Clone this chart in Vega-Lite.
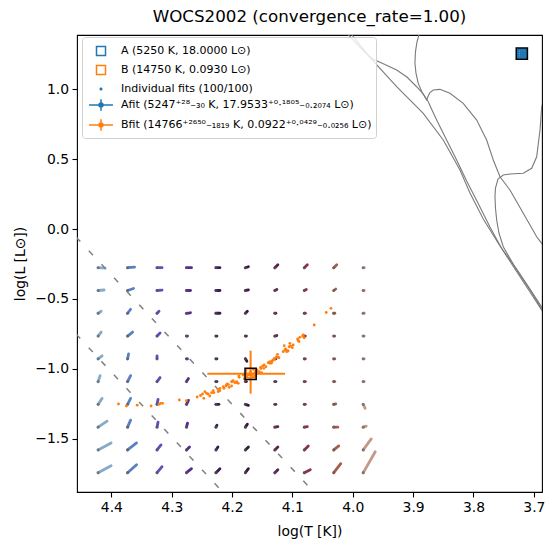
{
"$schema":"https://vega.github.io/schema/vega-lite/v6.json",
"width":465,"height":457,
"autosize":{"type":"none"},
"padding":{"left":77,"top":35,"right":11,"bottom":55},
"title":{"text":"WOCS2002 (convergence_rate=1.00)","fontSize":16.7,"fontWeight":"normal","font":"DejaVu Sans","color":"black","offset":9,"anchor":"middle"},
"config":{
 "font":"DejaVu Sans",
 "view":{"stroke":"black","strokeWidth":1.1},
 "axis":{"grid":false,"domain":false,"tickColor":"black","tickWidth":1.1,"tickSize":5,"labelFontSize":13.9,"labelColor":"black","labelPadding":3.5,"titleFontSize":13.9,"titleFontWeight":"normal","titleColor":"black","labelFont":"DejaVu Sans","titleFont":"DejaVu Sans"},
 "legend":{"strokeColor":"#d0d0d0","fillColor":"rgba(255,255,255,0.8)","cornerRadius":3,"padding":4,"labelFontSize":11,"labelFont":"DejaVu Sans","labelColor":"black","symbolSize":324,"symbolStrokeWidth":1.5,"symbolOpacity":1,"rowPadding":1,"labelOffset":10,"symbolOffset":5,"labelLimit":500}
},
"datasets":{
 "grid":[
{"c":0,"t":4.4219,"l":-0.2767,"t2":4.4103,"l2":-0.2803},{"c":1,"t":4.3731,"l":-0.2767,"t2":4.3615,"l2":-0.2731},{"c":2,"t":4.3243,"l":-0.2767,"t2":4.3160,"l2":-0.2767},{"c":3,"t":4.2755,"l":-0.2767,"t2":4.2672,"l2":-0.2767},{"c":4,"t":4.2267,"l":-0.2767,"t2":4.2201,"l2":-0.2767},{"c":5,"t":4.1779,"l":-0.2767,"t2":4.1729,"l2":-0.2696},{"c":6,"t":4.1291,"l":-0.2767,"t2":4.1241,"l2":-0.2553},{"c":7,"t":4.0803,"l":-0.2767,"t2":4.0753,"l2":-0.2553},{"c":8,"t":4.0315,"l":-0.2767,"t2":4.0265,"l2":-0.2553},{"c":9,"t":3.9827,"l":-0.2767,"t2":3.9810,"l2":-0.2767},
{"c":0,"t":4.4219,"l":-0.4395,"t2":4.4120,"l2":-0.4359},{"c":1,"t":4.3731,"l":-0.4395,"t2":4.3632,"l2":-0.4252},{"c":2,"t":4.3243,"l":-0.4395,"t2":4.3160,"l2":-0.4374},{"c":3,"t":4.2755,"l":-0.4395,"t2":4.2689,"l2":-0.4395},{"c":4,"t":4.2267,"l":-0.4395,"t2":4.2201,"l2":-0.4395},{"c":5,"t":4.1779,"l":-0.4395,"t2":4.1729,"l2":-0.4359},{"c":6,"t":4.1291,"l":-0.4395,"t2":4.1258,"l2":-0.4324},{"c":7,"t":4.0803,"l":-0.4395,"t2":4.0770,"l2":-0.4324},{"c":8,"t":4.0315,"l":-0.4395,"t2":4.0282,"l2":-0.4288},{"c":9,"t":3.9827,"l":-0.4395,"t2":3.9810,"l2":-0.4395},
{"c":0,"t":4.4219,"l":-0.6023,"t2":4.4169,"l2":-0.5880},{"c":1,"t":4.3731,"l":-0.6023,"t2":4.3681,"l2":-0.5737},{"c":2,"t":4.3243,"l":-0.6023,"t2":4.3210,"l2":-0.5880},{"c":3,"t":4.2755,"l":-0.6023,"t2":4.2689,"l2":-0.5987},{"c":4,"t":4.2267,"l":-0.6023,"t2":4.2201,"l2":-0.6023},{"c":5,"t":4.1779,"l":-0.6023,"t2":4.1746,"l2":-0.5880},{"c":6,"t":4.1291,"l":-0.6023,"t2":4.1274,"l2":-0.6023},{"c":7,"t":4.0803,"l":-0.6023,"t2":4.0786,"l2":-0.6023},{"c":8,"t":4.0315,"l":-0.6023,"t2":4.0298,"l2":-0.6023},{"c":9,"t":3.9827,"l":-0.6023,"t2":3.9810,"l2":-0.6023},
{"c":0,"t":4.4219,"l":-0.7651,"t2":4.4169,"l2":-0.7365},{"c":1,"t":4.3731,"l":-0.7651,"t2":4.3648,"l2":-0.7365},{"c":2,"t":4.3243,"l":-0.7651,"t2":4.3193,"l2":-0.7437},{"c":3,"t":4.2755,"l":-0.7651,"t2":4.2738,"l2":-0.7651},{"c":4,"t":4.2267,"l":-0.7651,"t2":4.2250,"l2":-0.7651},{"c":5,"t":4.1779,"l":-0.7651,"t2":4.1762,"l2":-0.7651},{"c":6,"t":4.1291,"l":-0.7651,"t2":4.1258,"l2":-0.7615},{"c":7,"t":4.0803,"l":-0.7651,"t2":4.0786,"l2":-0.7651},{"c":8,"t":4.0315,"l":-0.7651,"t2":4.0298,"l2":-0.7651},{"c":9,"t":3.9827,"l":-0.7651,"t2":3.9810,"l2":-0.7651},
{"c":0,"t":4.4219,"l":-0.9279,"t2":4.4153,"l2":-0.9065},{"c":1,"t":4.3731,"l":-0.9279,"t2":4.3714,"l2":-0.8922},{"c":2,"t":4.3243,"l":-0.9279,"t2":4.3243,"l2":-0.9065},{"c":3,"t":4.2755,"l":-0.9279,"t2":4.2738,"l2":-0.9279},{"c":4,"t":4.2267,"l":-0.9279,"t2":4.2250,"l2":-0.9279},{"c":5,"t":4.1779,"l":-0.9279,"t2":4.1754,"l2":-0.9458},{"c":6,"t":4.1291,"l":-0.9279,"t2":4.1274,"l2":-0.9279},{"c":7,"t":4.0803,"l":-0.9279,"t2":4.0786,"l2":-0.9279},{"c":8,"t":4.0315,"l":-0.9279,"t2":4.0298,"l2":-0.9279},{"c":9,"t":3.9827,"l":-0.9279,"t2":3.9810,"l2":-0.9279},
{"c":0,"t":4.4219,"l":-1.0907,"t2":4.4186,"l2":-1.0478},{"c":1,"t":4.3731,"l":-1.0907,"t2":4.3681,"l2":-1.0478},{"c":2,"t":4.3243,"l":-1.0907,"t2":4.3193,"l2":-1.0621},{"c":3,"t":4.2755,"l":-1.0907,"t2":4.2722,"l2":-1.0693},{"c":4,"t":4.2267,"l":-1.0907,"t2":4.2250,"l2":-1.0907},{"c":5,"t":4.1779,"l":-1.0907,"t2":4.1762,"l2":-1.0907},{"c":6,"t":4.1291,"l":-1.0907,"t2":4.1274,"l2":-1.0907},{"c":7,"t":4.0803,"l":-1.0907,"t2":4.0786,"l2":-1.0907},{"c":8,"t":4.0315,"l":-1.0907,"t2":4.0298,"l2":-1.0907},{"c":9,"t":3.9827,"l":-1.0907,"t2":3.9810,"l2":-1.0907},
{"c":0,"t":4.4219,"l":-1.2535,"t2":4.4153,"l2":-1.2106},{"c":1,"t":4.3731,"l":-1.2535,"t2":4.3681,"l2":-1.2106},{"c":2,"t":4.3243,"l":-1.2535,"t2":4.3226,"l2":-1.2178},{"c":3,"t":4.2755,"l":-1.2535,"t2":4.2722,"l2":-1.2249},{"c":4,"t":4.2267,"l":-1.2535,"t2":4.2217,"l2":-1.2535},{"c":5,"t":4.1779,"l":-1.2535,"t2":4.1729,"l2":-1.2606},{"c":6,"t":4.1291,"l":-1.2535,"t2":4.1274,"l2":-1.2535},{"c":7,"t":4.0803,"l":-1.2535,"t2":4.0786,"l2":-1.2535},{"c":8,"t":4.0315,"l":-1.2535,"t2":4.0282,"l2":-1.2499},{"c":9,"t":3.9827,"l":-1.2535,"t2":3.9794,"l2":-1.2821},
{"c":0,"t":4.4219,"l":-1.4163,"t2":4.4070,"l2":-1.3734},{"c":1,"t":4.3731,"l":-1.4163,"t2":4.3681,"l2":-1.3663},{"c":2,"t":4.3243,"l":-1.4163,"t2":4.3226,"l2":-1.3806},{"c":3,"t":4.2755,"l":-1.4163,"t2":4.2738,"l2":-1.3877},{"c":4,"t":4.2267,"l":-1.4163,"t2":4.2250,"l2":-1.4020},{"c":5,"t":4.1779,"l":-1.4163,"t2":4.1746,"l2":-1.3949},{"c":6,"t":4.1291,"l":-1.4163,"t2":4.1241,"l2":-1.4127},{"c":7,"t":4.0803,"l":-1.4163,"t2":4.0753,"l2":-1.4127},{"c":8,"t":4.0315,"l":-1.4163,"t2":4.0249,"l2":-1.4163},{"c":9,"t":3.9827,"l":-1.4163,"t2":3.9777,"l2":-1.4092},
{"c":0,"t":4.4219,"l":-1.5791,"t2":4.4004,"l2":-1.5291},{"c":1,"t":4.3731,"l":-1.5791,"t2":4.3582,"l2":-1.5291},{"c":2,"t":4.3243,"l":-1.5791,"t2":4.3177,"l2":-1.5434},{"c":3,"t":4.2755,"l":-1.5791,"t2":4.2705,"l2":-1.5577},{"c":4,"t":4.2267,"l":-1.5791,"t2":4.2234,"l2":-1.5577},{"c":5,"t":4.1779,"l":-1.5791,"t2":4.1729,"l2":-1.5577},{"c":6,"t":4.1291,"l":-1.5791,"t2":4.1241,"l2":-1.5577},{"c":7,"t":4.0803,"l":-1.5791,"t2":4.0737,"l2":-1.5505},{"c":8,"t":4.0315,"l":-1.5791,"t2":4.0232,"l2":-1.5505},{"c":9,"t":3.9827,"l":-1.5791,"t2":3.9694,"l2":-1.5005},
{"c":0,"t":4.4219,"l":-1.7420,"t2":4.4004,"l2":-1.6920},{"c":1,"t":4.3731,"l":-1.7420,"t2":4.3582,"l2":-1.6848},{"c":2,"t":4.3243,"l":-1.7420,"t2":4.3160,"l2":-1.6991},{"c":3,"t":4.2755,"l":-1.7420,"t2":4.2672,"l2":-1.7134},{"c":4,"t":4.2267,"l":-1.7420,"t2":4.2201,"l2":-1.7134},{"c":5,"t":4.1779,"l":-1.7420,"t2":4.1729,"l2":-1.7134},{"c":6,"t":4.1291,"l":-1.7420,"t2":4.1241,"l2":-1.7206},{"c":7,"t":4.0803,"l":-1.7420,"t2":4.0704,"l2":-1.7206},{"c":8,"t":4.0315,"l":-1.7420,"t2":4.0199,"l2":-1.6777},{"c":9,"t":3.9827,"l":-1.7420,"t2":3.9628,"l2":-1.5919}
 ],
 "iso":[
{"id":1,"i":0,"t":4.0079,"l":1.4224},{"id":1,"i":1,"t":3.9716,"l":1.2273},{"id":1,"i":2,"t":3.9273,"l":1.0171},{"id":1,"i":3,"t":3.8832,"l":0.8270},{"id":1,"i":4,"t":3.8501,"l":0.6361},{"id":1,"i":5,"t":3.8224,"l":0.4217},{"id":1,"i":6,"t":3.8058,"l":0.2573},{"id":1,"i":7,"t":3.7838,"l":0.0714},{"id":1,"i":8,"t":3.7561,"l":-0.1216},{"id":1,"i":9,"t":3.7285,"l":-0.2860},{"id":1,"i":10,"t":3.7064,"l":-0.4289},{"id":1,"i":11,"t":3.6816,"l":-0.5934},
{"id":2,"i":0,"t":4.0148,"l":1.4224},{"id":2,"i":1,"t":3.9915,"l":1.3152},{"id":2,"i":2,"t":3.9766,"l":1.2508},{"id":2,"i":3,"t":3.9661,"l":1.2130},{"id":2,"i":4,"t":3.9467,"l":1.1758},{"id":2,"i":5,"t":3.9273,"l":1.1365},{"id":2,"i":6,"t":3.9103,"l":1.0864},{"id":2,"i":7,"t":3.8942,"l":1.0171},{"id":2,"i":8,"t":3.8837,"l":0.9685},{"id":2,"i":9,"t":3.8750,"l":0.9099},{"id":2,"i":10,"t":3.8688,"l":0.8506},{"id":2,"i":11,"t":3.8610,"l":0.7791},{"id":2,"i":12,"t":3.8445,"l":0.6361},{"id":2,"i":13,"t":3.8279,"l":0.4932},{"id":2,"i":14,"t":3.8113,"l":0.3430},{"id":2,"i":15,"t":3.7926,"l":0.1858},{"id":2,"i":16,"t":3.7727,"l":0.0142},{"id":2,"i":17,"t":3.7528,"l":-0.1430},{"id":2,"i":18,"t":3.7280,"l":-0.3074},{"id":2,"i":19,"t":3.7064,"l":-0.4504},{"id":2,"i":20,"t":3.6816,"l":-0.6148},
{"id":3,"i":0,"t":3.8871,"l":1.4367},{"id":3,"i":1,"t":3.8937,"l":1.3366},{"id":3,"i":2,"t":3.8962,"l":1.2651},{"id":3,"i":3,"t":3.8970,"l":1.1844},{"id":3,"i":4,"t":3.8953,"l":1.1150},{"id":3,"i":5,"t":3.8915,"l":1.0414},{"id":3,"i":6,"t":3.8854,"l":0.9792},{"id":3,"i":7,"t":3.8776,"l":0.9220},{"id":3,"i":8,"t":3.8750,"l":0.9506},{"id":3,"i":9,"t":3.8721,"l":0.9756},{"id":3,"i":10,"t":3.8667,"l":0.9935},{"id":3,"i":11,"t":3.8556,"l":0.9985},{"id":3,"i":12,"t":3.8390,"l":0.9699},{"id":3,"i":13,"t":3.8170,"l":0.8984},{"id":3,"i":14,"t":3.7947,"l":0.7791},{"id":3,"i":15,"t":3.7782,"l":0.6361},{"id":3,"i":16,"t":3.7672,"l":0.4932},{"id":3,"i":17,"t":3.7561,"l":0.3738},{"id":3,"i":18,"t":3.7396,"l":0.2787},{"id":3,"i":19,"t":3.7175,"l":0.1122},{"id":3,"i":20,"t":3.6953,"l":-0.0551},{"id":3,"i":21,"t":3.6799,"l":-0.1430},
{"id":4,"i":0,"t":3.6766,"l":1.0293},{"id":4,"i":1,"t":3.6870,"l":0.8741},{"id":4,"i":2,"t":3.6898,"l":0.7076},{"id":4,"i":3,"t":3.6953,"l":0.5167},{"id":4,"i":4,"t":3.7036,"l":0.4338},{"id":4,"i":5,"t":3.7175,"l":0.3981},{"id":4,"i":6,"t":3.7396,"l":0.3931},{"id":4,"i":7,"t":3.7507,"l":0.3859},{"id":4,"i":8,"t":3.7594,"l":0.3573},{"id":4,"i":9,"t":3.7636,"l":0.2930},{"id":4,"i":10,"t":3.7644,"l":0.2308},{"id":4,"i":11,"t":3.7636,"l":0.1500},{"id":4,"i":12,"t":3.7616,"l":0.0642},{"id":4,"i":13,"t":3.7578,"l":-0.0287},{"id":4,"i":14,"t":3.7507,"l":-0.1266},{"id":4,"i":15,"t":3.7285,"l":-0.2931},{"id":4,"i":16,"t":3.7064,"l":-0.4361},{"id":4,"i":17,"t":3.6816,"l":-0.6076}
 ],
 "dash":[
{"id":"a","i":0,"t":4.5,"l":0.1348},{"id":"a","i":1,"t":4.0,"l":-2.179},
{"id":"b","i":0,"t":4.5,"l":-0.5573},{"id":"b","i":1,"t":4.15,"l":-2.1848}
 ],
 "fitsB":[
{"t":4.3881,"l":-1.2510},{"t":4.3751,"l":-1.2653},{"t":4.3572,"l":-1.2595},{"t":4.3342,"l":-1.2653},{"t":4.3208,"l":-1.2531},{"t":4.3185,"l":-1.2460},{"t":4.3151,"l":-1.2460},{"t":4.2873,"l":-1.2224},{"t":4.2757,"l":-1.2274},{"t":4.2578,"l":-1.2009},
{"t":4.2522,"l":-1.1902},{"t":4.2489,"l":-1.1795},{"t":4.2467,"l":-1.2102},{"t":4.2450,"l":-1.1630},{"t":4.2422,"l":-1.1745},{"t":4.2396,"l":-1.1795},{"t":4.2368,"l":-1.1938},{"t":4.2339,"l":-1.1702},{"t":4.2313,"l":-1.1559},{"t":4.2301,"l":-1.1702},
{"t":4.2230,"l":-1.1459},{"t":4.2230,"l":-1.1630},{"t":4.2202,"l":-1.1559},{"t":4.2202,"l":-1.1387},{"t":4.2147,"l":-1.1273},{"t":4.2135,"l":-1.1387},{"t":4.2102,"l":-1.1223},{"t":4.2091,"l":-1.1152},{"t":4.2081,"l":-1.1080},{"t":4.2060,"l":-1.1120},
{"t":4.2048,"l":-1.1316},{"t":4.2008,"l":-1.1223},{"t":4.2008,"l":-1.0916},{"t":4.1991,"l":-1.0887},{"t":4.1981,"l":-1.0844},{"t":4.1953,"l":-1.0987},{"t":4.1925,"l":-1.0916},{"t":4.1915,"l":-1.0987},{"t":4.1898,"l":-1.1030},{"t":4.1887,"l":-1.0508},
{"t":4.1882,"l":-1.0601},{"t":4.1816,"l":-1.0437},{"t":4.1787,"l":-1.0673},{"t":4.1759,"l":-1.0558},{"t":4.1733,"l":-1.0437},{"t":4.1716,"l":-1.0401},{"t":4.1705,"l":-1.0315},{"t":4.1693,"l":-1.0201},{"t":4.1676,"l":-1.0437},{"t":4.1660,"l":-1.0365},
{"t":4.1650,"l":-1.0580},{"t":4.1622,"l":-1.0272},{"t":4.1622,"l":-1.0473},{"t":4.1594,"l":-1.0237},{"t":4.1584,"l":-1.0079},{"t":4.1577,"l":-1.0315},{"t":4.1550,"l":-1.0201},{"t":4.1527,"l":-0.9886},{"t":4.1511,"l":-1.0272},{"t":4.1522,"l":-0.9972},
{"t":4.1494,"l":-0.9793},{"t":4.1473,"l":-0.9958},{"t":4.1468,"l":-0.9722},{"t":4.1439,"l":-0.9843},{"t":4.1401,"l":-0.9557},{"t":4.1373,"l":-0.9486},{"t":4.1373,"l":-0.9600},{"t":4.1345,"l":-0.9579},{"t":4.1337,"l":-0.9436},{"t":4.1318,"l":-0.9365},
{"t":4.1302,"l":-0.9293},{"t":4.1290,"l":-0.9243},{"t":4.1262,"l":-0.9129},{"t":4.1246,"l":-0.8957},{"t":4.1236,"l":-0.9172},{"t":4.1224,"l":-0.9200},{"t":4.1153,"l":-0.8771},{"t":4.1136,"l":-0.8342},{"t":4.1125,"l":-0.8650},{"t":4.1113,"l":-0.8578},
{"t":4.1096,"l":-0.8771},{"t":4.1086,"l":-0.8700},{"t":4.1070,"l":-0.8721},{"t":4.1053,"l":-0.8414},{"t":4.1042,"l":-0.8171},{"t":4.1030,"l":-0.8364},{"t":4.1003,"l":-0.8485},{"t":4.0987,"l":-0.8292},{"t":4.0914,"l":-0.7863},{"t":4.0904,"l":-0.7971},
{"t":4.0892,"l":-0.8042},{"t":4.0876,"l":-0.7742},{"t":4.0831,"l":-0.7649},{"t":4.0821,"l":-0.7578},{"t":4.0805,"l":-0.7771},{"t":4.0639,"l":-0.6863},{"t":4.0440,"l":-0.5969},{"t":4.0362,"l":-0.5669},{"t":4.1796,"l":-1.0723},{"t":4.1647,"l":-1.0043}
 ],
 "markers":[
{"s":"Individual fits (100/100)","t":3.7260,"l":1.2300},{"s":"Individual fits (100/100)","t":3.7220,"l":1.2290},{"s":"Individual fits (100/100)","t":3.7180,"l":1.2310},{"s":"Individual fits (100/100)","t":3.7140,"l":1.2300},
{"s":"Individual fits (100/100)","t":3.7255,"l":1.2460},{"s":"Individual fits (100/100)","t":3.7215,"l":1.2470},{"s":"Individual fits (100/100)","t":3.7185,"l":1.2450},{"s":"Individual fits (100/100)","t":3.7145,"l":1.2465},
{"s":"Individual fits (100/100)","t":3.7258,"l":1.2620},{"s":"Individual fits (100/100)","t":3.7218,"l":1.2630},{"s":"Individual fits (100/100)","t":3.7178,"l":1.2615},{"s":"Individual fits (100/100)","t":3.7142,"l":1.2625},
{"s":"Individual fits (100/100)","t":3.7262,"l":1.2780},{"s":"Individual fits (100/100)","t":3.7222,"l":1.2790},{"s":"Individual fits (100/100)","t":3.7182,"l":1.2775},{"s":"Individual fits (100/100)","t":3.7140,"l":1.2785},
{"s":"A (5250 K, 18.0000 L⊙)","t":3.72016,"l":1.25527},
{"s":"B (14750 K, 0.0930 L⊙)","t":4.16879,"l":-1.03152}
 ],
 "errB":[
{"t":4.24095,"l":-1.0353,"t2":4.11217,"l2":-1.0353},{"t":4.16926,"l":-0.8693,"t2":4.16926,"l2":-1.1765}
 ],
 "errA":[
{"t":3.72222,"l":1.25414,"t2":3.71742,"l2":1.25414},{"t":3.71991,"l":1.25849,"t2":3.71991,"l2":1.24909}
 ],
 "best":[
{"t":3.71991,"l":1.25414},{"t":4.16926,"l":-1.0353}
 ]
},
"encoding":{
 "x":{"field":"t","type":"quantitative","scale":{"domain":[4.4569,3.6865],"nice":false,"zero":false},"axis":{"values":[4.4,4.3,4.2,4.1,4.0,3.9,3.8,3.7],"format":".1f","title":"log(T [K])","titlePadding":10,"labelFlush":false,"labelOverlap":false}},
 "y":{"field":"l","type":"quantitative","scale":{"domain":[-1.880,1.387],"nice":false,"zero":false},"axis":{"values":[-1.5,-1,-0.5,0,0.5,1],"format":".1f","title":"log(L [L⊙])","titlePadding":7,"labelFlush":false,"labelOverlap":false}}
},
"layer":[
 {"data":{"name":"grid"},"mark":{"type":"rule","strokeWidth":2.8,"strokeCap":"round"},
  "encoding":{"x2":{"field":"t2"},"y2":{"field":"l2"},"color":{"field":"c","type":"nominal","legend":null,"scale":{"domain":[0,1,2,3,4,5,6,7,8,9],"range":["#86abc9","#5b80c0","#5d50bb","#562a8e","#3d1a55","#38183f","#5e1f4f","#8a3050","#a85c50","#c49a86"]}}}},
 {"data":{"name":"grid"},"mark":{"type":"point","filled":true,"size":10,"color":"#555555","opacity":0.6}},
 {"data":{"name":"iso"},"mark":{"type":"line","color":"#7a7a7a","strokeWidth":1.1,"interpolate":"linear","clip":true},
  "encoding":{"detail":{"field":"id","type":"nominal"},"order":{"field":"i","type":"quantitative"}}},
 {"data":{"name":"dash"},"mark":{"type":"line","color":"#808080","strokeWidth":1.5,"strokeDash":[6,12.5],"clip":true},
  "encoding":{"detail":{"field":"id","type":"nominal"},"order":{"field":"i","type":"quantitative"}}},
 {"data":{"name":"fitsB"},"mark":{"type":"point","filled":true,"size":8,"color":"#ff7f0e","opacity":1}},
 {"data":{"name":"markers"},"mark":{"type":"point","size":324,"strokeWidth":1.5,"opacity":1},
  "encoding":{
   "fill":{"field":"s","type":"nominal","title":null,"scale":{"domain":["A (5250 K, 18.0000 L⊙)","B (14750 K, 0.0930 L⊙)","Individual fits (100/100)","Afit (5247⁺²⁸₋₃₀ K, 17.9533⁺⁰·¹⁸⁰⁵₋₀.₂₀₇₄ L⊙)","Bfit (14766⁺²⁶⁵⁰₋₁₈₁₉ K, 0.0922⁺⁰·⁰⁴²⁹₋₀.₀₂₅₆ L⊙)"],"range":["transparent","transparent","#1f77b4","#1f77b4","#ff7f0e"]},"legend":{"orient":"none","legendX":5,"legendY":2}},
   "stroke":{"field":"s","type":"nominal","title":null,"scale":{"domain":["A (5250 K, 18.0000 L⊙)","B (14750 K, 0.0930 L⊙)","Individual fits (100/100)","Afit (5247⁺²⁸₋₃₀ K, 17.9533⁺⁰·¹⁸⁰⁵₋₀.₂₀₇₄ L⊙)","Bfit (14766⁺²⁶⁵⁰₋₁₈₁₉ K, 0.0922⁺⁰·⁰⁴²⁹₋₀.₀₂₅₆ L⊙)"],"range":["#1f77b4","#ff7f0e","transparent","#1f77b4","#ff7f0e"]},"legend":{"orient":"none","legendX":5,"legendY":2}},
   "shape":{"field":"s","type":"nominal","title":null,"scale":{"domain":["A (5250 K, 18.0000 L⊙)","B (14750 K, 0.0930 L⊙)","Individual fits (100/100)","Afit (5247⁺²⁸₋₃₀ K, 17.9533⁺⁰·¹⁸⁰⁵₋₀.₂₀₇₄ L⊙)","Bfit (14766⁺²⁶⁵⁰₋₁₈₁₉ K, 0.0922⁺⁰·⁰⁴²⁹₋₀.₀₂₅₆ L⊙)"],"range":["M-0.5,-0.5H0.5V0.5H-0.5Z","M-0.5,-0.5H0.5V0.5H-0.5Z","M0.17,0A0.17,0.17 0 1,1 -0.17,0A0.17,0.17 0 1,1 0.17,0Z","M-1.33,0H1.33M0,-0.65V0.65M0.22,0A0.22,0.22 0 1,1 -0.22,0A0.22,0.22 0 1,1 0.22,0Z","M-1.33,0H1.33M0,-0.65V0.65M0.22,0A0.22,0.22 0 1,1 -0.22,0A0.22,0.22 0 1,1 0.22,0Z"]},"legend":{"orient":"none","legendX":5,"legendY":2}}
  }},
 {"data":{"name":"errB"},"mark":{"type":"rule","color":"#ff7f0e","strokeWidth":2},"encoding":{"x2":{"field":"t2"},"y2":{"field":"l2"}}},
 {"data":{"name":"errA"},"mark":{"type":"rule","color":"#1f77b4","strokeWidth":2},"encoding":{"x2":{"field":"t2"},"y2":{"field":"l2"}}},
 {"data":{"name":"best"},"mark":{"type":"point","shape":"square","size":125,"filled":false,"stroke":"black","strokeWidth":1.5,"opacity":1}}
]
}
